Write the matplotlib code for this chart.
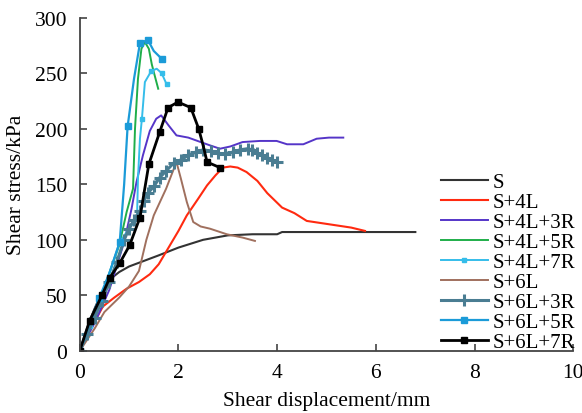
import matplotlib
matplotlib.use('Agg')
import matplotlib.pyplot as plt

matplotlib.rcParams['font.family'] = 'serif'
matplotlib.rcParams['font.serif'] = ['Liberation Serif', 'DejaVu Serif']
matplotlib.rcParams['font.size'] = 15.5

# shear displacement (mm) / shear stress (kPa) for each specimen
s_x = [0, 0.1, 0.2, 0.3, 0.4, 0.6, 0.8, 1.0, 1.3, 1.6, 2.0, 2.5, 3.0, 3.5, 4.0, 4.1, 5.0, 6.0, 6.8]
s_y = [0, 14, 27, 38, 48, 64, 71, 76, 81, 86, 93, 100, 104, 105, 105, 107, 107, 107, 107]

s4l_x = [0, 0.2, 0.47, 0.7, 0.95, 1.2, 1.42, 1.6, 1.76, 2.0, 2.17, 2.4, 2.58, 2.75, 2.9, 3.05,
         3.2, 3.38, 3.6, 3.8, 4.1, 4.35, 4.6, 4.9, 5.2, 5.5, 5.78]
s4l_y = [0, 18, 40, 48, 56, 62, 69, 78, 90, 108, 122, 137, 149, 158, 165, 166,
         165, 161, 153, 142, 129, 124, 117, 115, 113, 111, 108]

s4l3r_x = [0, 0.3, 0.6, 0.9, 1.05, 1.15, 1.28, 1.42, 1.55, 1.65, 1.8, 1.96, 2.2, 2.45, 2.64,
           2.84, 3.05, 3.3, 3.65, 3.99, 4.2, 4.53, 4.8, 5.05, 5.34]
s4l3r_y = [0, 25, 55, 98, 128, 152, 176, 198, 209, 212, 203, 194, 192, 188, 185,
           182, 184, 188, 189, 189, 186, 186, 191, 192, 192]

s4l5r_x = [0, 0.2, 0.4, 0.6, 0.8, 0.95, 1.08, 1.12, 1.18, 1.25, 1.32, 1.4, 1.46, 1.53, 1.59]
s4l5r_y = [0, 20, 45, 70, 95, 125, 146, 200, 245, 272, 278, 272, 258, 246, 236]

s4l7r_x = [0, 0.2, 0.4, 0.6, 0.81, 1.0, 1.16, 1.18, 1.22, 1.26, 1.32, 1.45, 1.56, 1.66, 1.76]
s4l7r_y = [0, 22, 45, 70, 98, 110, 119, 155, 191, 209, 242, 252, 254, 250, 240]

s6l_x = [0, 0.3, 0.5, 0.8, 1.0, 1.2, 1.35, 1.5, 1.75, 1.96, 2.05, 2.17, 2.3, 2.45, 2.64, 2.98, 3.3, 3.55]
s6l_y = [0, 20, 35, 48, 58, 72, 100, 122, 146, 170, 155, 134, 116, 112, 110, 105, 102, 99]

s6l3r_x = [0, 0.15, 0.3, 0.45, 0.6, 0.75, 0.9, 1.0, 1.1, 1.22, 1.3, 1.38, 1.5, 1.62, 1.75, 1.9,
           2.05, 2.2, 2.35, 2.5, 2.65, 2.8, 2.95, 3.1, 3.25, 3.4, 3.5, 3.6, 3.7, 3.8, 3.9, 4.0]
s6l3r_y = [0, 15, 30, 45, 62, 80, 100, 110, 118, 126, 135, 142, 148, 156, 162, 169,
           172, 176, 179, 181, 180, 178, 177, 179, 181, 182, 181, 178, 176, 174, 172, 170]

s6l5r_x = [0, 0.2, 0.4, 0.6, 0.81, 0.9, 0.97, 1.1, 1.22, 1.38, 1.5, 1.66]
s6l5r_y = [0, 25, 48, 70, 98, 150, 202, 245, 277, 280, 270, 263]

s6l7r_x = [0, 0.2, 0.45, 0.61, 0.81, 1.01, 1.22, 1.4, 1.62, 1.79, 1.99, 2.25, 2.41, 2.5, 2.58, 2.84]
s6l7r_y = [0, 27, 50, 66, 79, 95, 120, 168, 197, 219, 224, 219, 200, 185, 170, 165]

fig = plt.figure(figsize=(5.82, 4.14), dpi=100)
ax = fig.add_axes([0.137, 0.15, 0.848, 0.805])

ax.plot(s_x, s_y, color='#333333', lw=1.5, label='S')
ax.plot(s4l_x, s4l_y, color='#ff2a10', lw=1.5, label='S+4L')
ax.plot(s4l3r_x, s4l3r_y, color='#5535c8', lw=1.4, label='S+4L+3R')
ax.plot(s4l5r_x, s4l5r_y, color='#1fae4a', lw=1.4, label='S+4L+5R')
ax.plot(s4l7r_x, s4l7r_y, color='#35bdea', lw=1.4, marker='s', ms=3,
        markevery=[1, 4, 9, 11, 13, 14], label='S+4L+7R')
ax.plot(s6l_x, s6l_y, color='#a0705e', lw=1.4, label='S+6L')
ax.plot(s6l3r_x, s6l3r_y, color='#4a7d92', lw=2.2, marker='+', ms=8, mew=2.2,
        label='S+6L+3R')
ax.plot(s6l5r_x, s6l5r_y, color='#1b9bd8', lw=1.6, marker='s', ms=5,
        markevery=[0, 2, 4, 6, 8, 9, 11], label='S+6L+5R')
ax.plot(s6l7r_x, s6l7r_y, color='black', lw=2.0, marker='s', ms=5,
        markevery=[i for i in range(len(s6l7r_x)) if i != 13],
        label='S+6L+7R')

ax.set_xlim(0, 10)
ax.set_ylim(0, 300)
ax.set_xticks(range(0, 11, 2))
ax.set_yticks(range(0, 301, 50))
ax.spines['top'].set_visible(False)
ax.spines['right'].set_visible(False)
for sp in ('left', 'bottom'):
    ax.spines[sp].set_color('#444444')
    ax.spines[sp].set_linewidth(1.3)
ax.tick_params(direction='in', length=5, width=1.2, color='#444444')
ax.tick_params(axis='y', pad=9)
ax.tick_params(axis='x', pad=9)

ax.set_xlabel('Shear displacement/mm', labelpad=6)
ax.set_ylabel('Shear stress/kPa', labelpad=6)

ax.legend(loc='upper left', bbox_to_anchor=(0.739, 0.606),
          bbox_transform=fig.transFigure, frameon=False,
          handlelength=2.3, handletextpad=0.2, labelspacing=0.02,
          borderpad=0, fontsize=15)

fig.savefig('out.png', dpi=100)
